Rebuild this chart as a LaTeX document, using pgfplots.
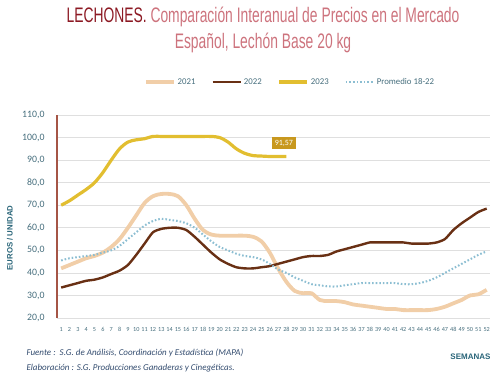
\documentclass[border=0pt]{standalone}
\usepackage{pgfplots}
\pgfplotsset{compat=1.18}
\usepackage{fontspec}
\setmainfont{Carlito}
\newfontfamily\titlefont[FakeStretch=0.66]{Liberation Sans}
\newfontfamily\boldsans{Liberation Sans}
\definecolor{c21}{RGB}{241,206,168}
\definecolor{c22}{RGB}{105,48,20}
\definecolor{c23}{RGB}{226,190,48}
\definecolor{cprom}{RGB}{140,190,210}
\definecolor{lab}{RGB}{200,152,30}
\definecolor{tick}{RGB}{70,110,125}
\definecolor{teal}{RGB}{40,100,120}
\definecolor{tdark}{RGB}{140,25,35}
\definecolor{tpink}{RGB}{205,115,125}
\definecolor{foot}{RGB}{50,75,110}
\begin{document}
\begin{tikzpicture}
\path[use as bounding box] (0,0) rectangle (500pt,376pt);
\node[anchor=base] at (263pt,354pt) {\titlefont\fontsize{21}{24}\selectfont\textcolor{tdark}{LECHONES.}\ \textcolor{tpink}{Comparación\ Interanual\ de\ Precios\ en\ el\ Mercado}};
\node[anchor=base] at (263pt,328pt) {\titlefont\fontsize{21}{24}\selectfont\textcolor{tpink}{Español,\ Lechón\ Base\ 20\ kg}};
\begin{axis}[
  at={(57pt,58pt)}, anchor=south west,
  scale only axis, width=433pt, height=203pt,
  xmin=0.5, xmax=52.4, ymin=20, ymax=110,
  axis x line*=bottom, axis y line*=left,
  x axis line style={draw=none},
  y axis line style={draw={rgb,255:red,165;green,85;blue,70}, line width=1.2pt},
  xtick={1,...,52}, ytick={20,30,...,110},
  major tick length=0pt,
  ymajorgrids, grid style={draw=gray!25, line width=0.6pt},
  /pgf/number format/assume math mode=true,
  yticklabel style={/pgf/number format/.cd, fixed, fixed zerofill, precision=1, use comma, 1000 sep={}, /tikz/.cd, font=\fontsize{9.8}{10}\selectfont, text=tick, xshift=-9pt},
  xticklabel style={font=\fontsize{6.2}{7}\selectfont, text=tick, inner sep=0pt, yshift=-9pt},
  legend style={at={(290pt-57pt,294pt-58pt)}, anchor=center, draw=none, fill=none, legend columns=4, font=\fontsize{8.8}{9}\selectfont, text=tick, /tikz/every even column/.append style={column sep=14pt}},
  legend image code/.code={\draw[#1] (0pt,0pt) -- (28pt,0pt);},
  legend cell align=left,
]
\addplot[c21, line width=3.8pt, smooth, tension=0.5] coordinates {
(1,42)(2,43.5)(3,45)(4,46.5)(5,47.5)(6,49)(7,51.5)(8,55)(9,60)(10,65.5)(11,71)(12,74)(13,75)(14,75)(15,74)(16,70)(17,64)(18,59)(19,57)(20,56.5)(21,56.5)(22,56.5)(23,56.5)(24,56)(25,54)(26,49)(27,42)(28,36)(29,32)(30,31)(31,31)(32,28)(33,27.5)(34,27.5)(35,27)(36,26)(37,25.5)(38,25)(39,24.5)(40,24)(41,24)(42,23.5)(43,23.5)(44,23.5)(45,23.5)(46,24)(47,25)(48,26.5)(49,28)(50,30)(51,30.5)(52,32.5)};
\addlegendentry{2021}
\addplot[c22, line width=2.4pt, smooth, tension=0.4] coordinates {
(1,33.5)(2,34.5)(3,35.5)(4,36.5)(5,37)(6,38)(7,39.5)(8,41)(9,43.5)(10,48)(11,53)(12,58)(13,59.5)(14,60)(15,60)(16,59)(17,56)(18,52.5)(19,49)(20,46)(21,44)(22,42.5)(23,42)(24,42)(25,42.5)(26,43)(27,44)(28,45)(29,46)(30,47)(31,47.5)(32,47.5)(33,48)(34,49.5)(35,50.5)(36,51.5)(37,52.5)(38,53.5)(39,53.5)(40,53.5)(41,53.5)(42,53.5)(43,53)(44,53)(45,53)(46,53.5)(47,55)(48,59)(49,62)(50,64.5)(51,67)(52,68.5)};
\addlegendentry{2022}
\addplot[c23, line width=3.2pt, smooth, tension=0.5] coordinates {
(1,70)(2,72)(3,74.5)(4,77)(5,80)(6,84.5)(7,90)(8,95)(9,98)(10,99)(11,99.5)(12,100.5)(13,100.5)(14,100.5)(15,100.5)(16,100.5)(17,100.5)(18,100.5)(19,100.5)(20,100)(21,98)(22,95)(23,93)(24,92)(25,91.8)(26,91.6)(27,91.57)(28,91.57)};
\addlegendentry{2023}
\addplot[cprom, line width=2pt, dash pattern=on 1.6pt off 2pt, smooth, tension=0.5] coordinates {
(1,45.5)(2,46.5)(3,47)(4,47.5)(5,48)(6,49)(7,50)(8,52)(9,55)(10,58)(11,61)(12,63)(13,64)(14,63.5)(15,63)(16,62)(17,60)(18,57)(19,54)(20,51.5)(21,50)(22,48.5)(23,47.5)(24,47)(25,46)(26,44)(27,41.5)(28,40)(29,38)(30,36.5)(31,35)(32,34.5)(33,34)(34,34)(35,34.5)(36,35)(37,35.5)(38,35.5)(39,35.5)(40,35.5)(41,35.5)(42,35)(43,35)(44,35.5)(45,36.5)(46,38)(47,40)(48,42)(49,44)(50,46)(51,48)(52,49.5)};
\addlegendentry{Promedio 18-22}
\node[fill=lab, text=white, font=\fontsize{8}{9}\selectfont, inner xsep=3pt, inner ysep=2.5pt] at (axis cs:27.7,97.6) {91,57};
\end{axis}
\node[rotate=90, anchor=center, text=teal, font=\boldsans\bfseries\fontsize{7.8}{8}\selectfont] at (10pt,138pt) {EUROS / UNIDAD};
\node[anchor=east, text=teal, font=\boldsans\bfseries\fontsize{8}{8}\selectfont] at (494pt,19pt) {SEMANAS};
\node[anchor=west, text=foot, font=\itshape\fontsize{9}{10}\selectfont, align=left] at (23pt,23pt) {Fuente :\ \ S.G. de Análisis, Coordinación y Estadística (MAPA)};
\node[anchor=west, text=foot, font=\itshape\fontsize{9}{10}\selectfont, align=left] at (23pt,8pt) {Elaboración : S.G. Producciones Ganaderas y Cinegéticas.};
\end{tikzpicture}
\end{document}
